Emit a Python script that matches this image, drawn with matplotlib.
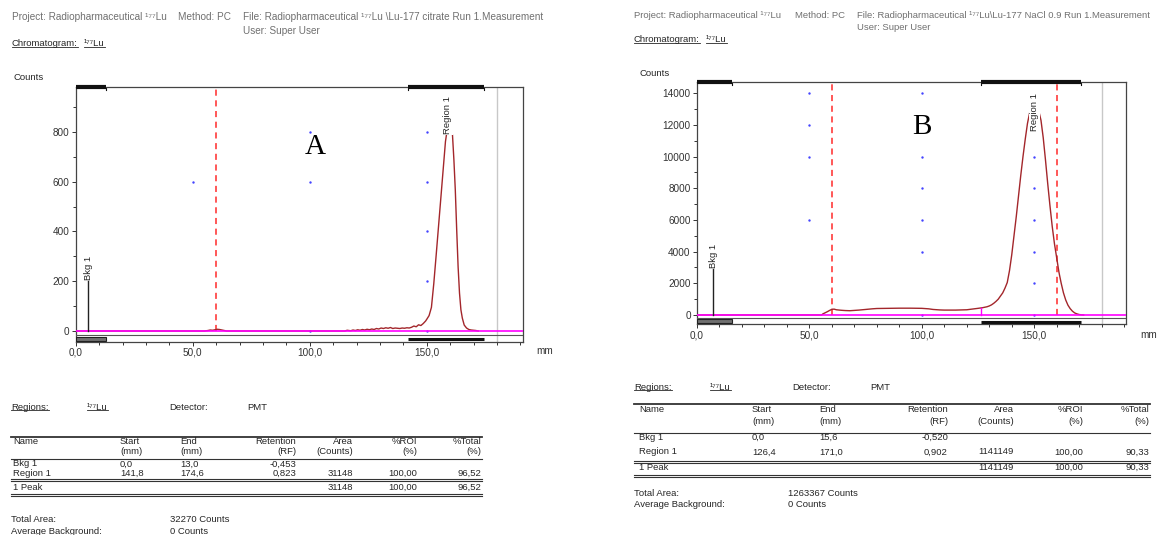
import matplotlib
matplotlib.use("Agg")
import matplotlib.pyplot as plt
from matplotlib.lines import Line2D
from matplotlib.patches import Rectangle
from matplotlib.ticker import MultipleLocator, FuncFormatter

W, H = 1157, 535
plt.rcParams['font.family'] = ['Liberation Sans', 'DejaVu Sans']

# ---- chromatogram A (Lu-177 citrate) ----
a_mm = [0, 55, 56.5, 57.5, 58.5, 59.5, 60.5, 61.5, 62.5, 63.5, 64.5, 115, 116, 117.5,
        118.5, 119.5, 120.5, 121.5, 122.5, 123.5, 124.5, 125.5, 126.5, 127.5, 128.5,
        129.5, 130.5, 131.5, 132.5, 133.5, 134.5, 135.5, 136.5, 137.5, 138.5, 139.5,
        140.5, 141.5, 142.5, 143.5, 144.5, 145.5, 146.5, 147.5, 148.5, 149.5, 150, 151,
        152, 153, 154, 155, 156, 157, 158, 158.6, 159.2, 159.8, 160.4, 161, 161.6,
        162.2, 162.8, 163.4, 164, 164.6, 165.2, 166, 167, 168, 169, 170, 171, 172]
a_counts = [0, 0, 2, 4, 3, 5, 7, 6, 4, 2, 0, 0, 3, 1,
            4, 2, 5, 3, 6, 4, 7, 5, 8, 6, 10,
            8, 12, 10, 13, 11, 14, 10, 12, 11, 10, 12,
            11, 13, 12, 15, 20, 17, 25, 22, 30, 40, 47, 62,
            95, 190, 302, 417, 532, 647, 762, 800, 815, 810, 800, 788, 688,
            567, 406, 258, 152, 85, 52, 24, 12, 6, 4, 3, 2, 0]
a_bkg = (0.0, 13.0)
a_region = (141.8, 174.6)
a_front = [60]
a_dots_x = [50, 100, 100, 150, 150, 150, 150, 100, 150]
a_dots_y = [600, 800, 600, 800, 600, 400, 200, 0, 0]

# ---- chromatogram B (Lu-177 NaCl 0.9) ----
b_mm = [0, 55.4, 56, 57, 58, 59, 60, 61, 62, 64, 66, 68, 70, 72, 75, 78, 80,
        85, 90, 95, 100, 103, 105, 108, 110, 115, 120, 125, 127, 129, 130, 131, 132,
        133, 134, 135, 136, 137, 138, 139, 140, 141, 142, 143, 144, 145, 146, 147,
        148, 149, 150, 151, 152, 153, 154, 155, 156, 157, 158, 159, 160, 161, 162,
        163, 164, 165, 166, 167, 168, 169, 170, 171, 172]
b_counts = [0, 0, 70, 140, 210, 290, 360, 370, 330, 300, 280, 270, 290, 310, 350, 390, 410,
            420, 430, 430, 420, 390, 350, 320, 310, 310, 330, 420, 460, 520, 570, 640, 740,
            860, 1000, 1200, 1400, 1700, 2050, 2800, 3800, 5000, 6200, 7500, 8800, 10000, 11100, 12100,
            12800, 13100, 13150, 13100, 12900, 12300, 11200, 9800, 8300, 6900, 5600, 4500, 3600, 2700, 2000,
            1400, 950, 620, 400, 240, 130, 70, 30, 10, 0]
b_bkg = (0.0, 15.6)
b_region = (126.4, 171.0)
b_front = [60, 160]
b_dots_x = [50, 50, 50, 50, 100, 100, 100, 100, 100, 100, 150, 150, 150, 150, 150, 150]
b_dots_y = [14000, 12000, 10000, 6000, 14000, 10000, 8000, 6000, 4000, 0,
            10000, 8000, 6000, 4000, 2000, 0]

# ---- region tables ----
col_names = ["Name", "Start", "End", "Retention", "Area", "%ROI", "%Total"]
col_units = ["", "(mm)", "(mm)", "(RF)", "(Counts)", "(%)", "(%)"]
a_rows = [["Bkg 1", "0,0", "13,0", "-0,453", "", "", ""],
          ["Region 1", "141,8", "174,6", "0,823", "31148", "100,00", "96,52"]]
a_peak = ["1 Peak", "", "", "", "31148", "100,00", "96,52"]
a_total = "32270 Counts"
b_rows = [["Bkg 1", "0,0", "15,6", "-0,520", "", "", ""],
          ["Region 1", "126,4", "171,0", "0,902", "1141149", "100,00", "90,33"]]
b_peak = ["1 Peak", "", "", "", "1141149", "100,00", "90,33"]
b_total = "1263367 Counts"

LU = "\u00b9\u2077\u2077Lu"
GRAY = '#707070'
INK = '#262626'

fig = plt.figure(figsize=(W / 100, H / 100), dpi=100)
underlined = []


def fx(x):
    return x / W


def fy(y):
    return 1 - y / H


def ftext(x, y, s, **kw):
    kw.setdefault('fontsize', 6.8)
    kw.setdefault('color', INK)
    kw.setdefault('va', 'center')
    return fig.text(fx(x), fy(y), s, **kw)


def hline(x0, x1, y, lw=0.8, color='#333333'):
    fig.add_artist(Line2D([fx(x0), fx(x1)], [fy(y), fy(y)], lw=lw, color=color))


def plot_chromatogram(box, yhi, ylo, ymajor, yminor, mm, counts, bkg, region, front,
                      dots_x, dots_y, bkg_x, bkg_h, lab_xy, letter, letter_xy, start_mark=None):
    l, t, r, b = box
    ax = fig.add_axes([fx(l), fy(b), (r - l) / W, (b - t) / H])
    xmax = 191.0
    ax.set_xlim(0, xmax)
    ax.set_ylim(ylo, yhi)
    hpx = b - t
    trans = ax.get_xaxis_transform()

    ax.axvline(180, color='#c8c8c8', lw=1.0, zorder=1)
    ax.scatter(dots_x, dots_y, s=3, color='#4444ff', linewidths=0, zorder=2)
    for x in front:
        ax.plot([x, x], [0, yhi], color='#ff2a2a', lw=1.1, ls=(0, (4, 3)), zorder=2)
    ax.plot(mm, counts, color='#a3262b', lw=1.0, zorder=3)
    ax.axhline(0, color='#ff00ff', lw=1.2, zorder=4)
    if start_mark is not None:
        ax.plot([start_mark[0]] * 2, [0, start_mark[1]], color='#ff00ff', lw=1.0, zorder=4)

    # background marker
    ax.plot([bkg_x, bkg_x], [0, bkg_h], color='#222222', lw=1.0, zorder=4)
    ax.text(bkg_x, bkg_h * 1.02, 'Bkg 1', rotation=90, ha='center', va='bottom',
            fontsize=6.8, color=INK)
    ax.text(lab_xy[0], lab_xy[1], 'Region 1', rotation=90, ha='center', va='center',
            fontsize=6.8, color=INK, zorder=6,
            bbox=dict(facecolor='white', edgecolor='none', pad=0.6))
    ax.text(letter_xy[0], letter_xy[1], letter, ha='center', va='center',
            fontsize=21, family='Liberation Serif', color='black')

    # region strips at bottom and top of the frame
    def fr(px):
        return px / hpx
    ax.plot([0, xmax], [fr(6.5)] * 2, transform=trans, color='#555555', lw=0.8, zorder=4)
    ax.add_patch(Rectangle((bkg[0], fr(1)), bkg[1] - bkg[0], fr(4.2), transform=trans,
                           facecolor='#707070', edgecolor='#222222', lw=0.8, zorder=4))
    ax.plot(region, [fr(2.5)] * 2, transform=trans, color='#111111', lw=2.2,
            solid_capstyle='butt', zorder=4)
    for seg in (bkg, region):
        ax.plot(seg, [1, 1], transform=trans, color='#111111', lw=3,
                solid_capstyle='butt', clip_on=False, zorder=5)
        for x in seg:
            if x > 0:
                ax.plot([x, x], [1, 1 - fr(3)], transform=trans, color='#111111', lw=0.8)

    ax.xaxis.set_major_locator(MultipleLocator(50))
    ax.xaxis.set_minor_locator(MultipleLocator(10))
    ax.xaxis.set_major_formatter(FuncFormatter(lambda v, p: f"{v:.1f}".replace('.', ',')))
    ax.yaxis.set_major_locator(MultipleLocator(ymajor))
    ax.yaxis.set_minor_locator(MultipleLocator(yminor))
    ax.tick_params(which='both', direction='out', labelsize=7.2, colors='#333333',
                   length=3, width=0.7, pad=1.5)
    ax.tick_params(which='minor', length=2.5)
    for s in ax.spines.values():
        s.set_color('#444444')
        s.set_linewidth(0.9)
    return ax


def header(x, y, method_x, file_x, file_text, user_y, chrom_y, size):
    ftext(x, y, "Project: Radiopharmaceutical " + LU, fontsize=size, color=GRAY)
    ftext(method_x, y, "Method: PC", fontsize=size, color=GRAY)
    ftext(file_x, y, file_text, fontsize=size, color=GRAY)
    ftext(file_x, user_y, "User: Super User", fontsize=size, color=GRAY)
    underlined.append(ftext(x, chrom_y, "Chromatogram:", fontsize=6.8))
    underlined.append(ftext(x + 72, chrom_y, LU, fontsize=6.8))


def region_table(x, cols, y_reg, y_rule, y_h1, y_h2, y_rule2, y_rows, y_dbl1, y_peak,
                 y_dbl2, y_tot, y_avg, x_right, rows, peak, total, val_x):
    underlined.append(ftext(x, y_reg, "Regions:"))
    underlined.append(ftext(x + 76, y_reg, LU))
    ftext(x + 158, y_reg, "Detector:")
    ftext(x + 236, y_reg, "PMT")
    hline(x, x_right, y_rule, lw=1.3)
    for (cx, ha), name, unit in zip(cols, col_names, col_units):
        ftext(cx, y_h1, name, ha=ha)
        if unit:
            ftext(cx, y_h2, unit, ha=ha)
    hline(x, x_right, y_rule2, lw=0.8)
    for ry, row in zip(y_rows, rows):
        for (cx, ha), val in zip(cols, row):
            if val:
                ftext(cx, ry, val, ha=ha)
    hline(x, x_right, y_dbl1, lw=0.8)
    hline(x, x_right, y_dbl1 + 2.2, lw=0.8)
    for (cx, ha), val in zip(cols, peak):
        if val:
            ftext(cx, y_peak, val, ha=ha)
    hline(x, x_right, y_dbl2, lw=0.8)
    hline(x, x_right, y_dbl2 + 2.2, lw=0.8)
    ftext(x, y_tot, "Total Area:")
    ftext(x, y_avg, "Average Background:")
    ftext(val_x, y_tot, total)
    ftext(val_x, y_avg, "0 Counts")


# ---- panel A ----
header(12, 17, 178, 243,
       "File: Radiopharmaceutical " + LU + " \\Lu-177 citrate Run 1.Measurement", 31, 44, 7.2)
ftext(14, 78, "Counts")
plot_chromatogram((75.7, 86.7, 522.7, 341.7), 982, -43, 200, 100, a_mm, a_counts,
                  a_bkg, a_region, a_front, a_dots_x, a_dots_y, 5.4, 200, (158.8, 868),
                  'A', (102.3, 740))
ftext(536, 351, "mm", fontsize=7.2, color='#333333')
a_cols = [(13, 'left'), (120, 'left'), (180, 'left'), (296, 'right'), (353, 'right'),
          (417, 'right'), (481, 'right')]
region_table(11, a_cols, 407, 437, 442, 452, 459, [464, 473], 479, 487.5, 494,
             520, 531, 482, a_rows, a_peak, a_total, 170)

# ---- panel B ----
header(634, 16, 795, 857,
       "File: Radiopharmaceutical " + LU + "\\Lu-177 NaCl 0.9 Run 1.Measurement", 28, 40, 6.8)
ftext(639, 73, "Counts")
plot_chromatogram((697, 81.7, 1126.4, 324.4), 14733, -594, 2000, 1000, b_mm, b_counts,
                  b_bkg, b_region, b_front, b_dots_x, b_dots_y, 7.3, 2900, (150, 12800),
                  'B', (100, 11890), start_mark=(126.4, 450))
ftext(1140, 335, "mm", fontsize=7.2, color='#333333')
b_cols = [(639, 'left'), (752, 'left'), (819, 'left'), (948, 'right'), (1014, 'right'),
          (1083, 'right'), (1149, 'right')]
region_table(634, b_cols, 387, 404, 409.5, 421.5, 433, [437.5, 452], 461, 467.5, 475,
             494, 504.5, 1150, b_rows, b_peak, b_total, 788)

# underline the link-style labels
fig.canvas.draw()
renderer = fig.canvas.get_renderer()
for t in underlined:
    bb = t.get_window_extent(renderer)
    yy = (bb.y0 + 1.2) / H
    fig.add_artist(Line2D([bb.x0 / W, bb.x1 / W], [yy, yy], lw=0.6, color=t.get_color()))

fig.savefig("out.png", dpi=100)
